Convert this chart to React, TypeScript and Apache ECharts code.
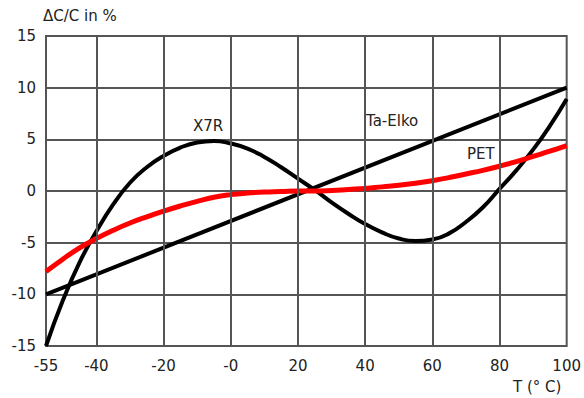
import React, { useEffect, useRef } from "react";
import * as echarts from "echarts";

const xTicks = [-55, -40, -20, 0, 20, 40, 60, 80, 100];
const xGridLines = [-40, -20, 0, 20, 40, 60, 80];
const yTicks = [-15, -10, -5, 0, 5, 10, 15];

const taElkoT = [-55, 100];
const taElkoV = [-10, 10];

const x7rT = [-55, -50, -45, -40, -35, -30, -25, -20, -15, -10, -5, 0, 5, 10, 15, 20, 25, 30, 35, 40, 45, 50, 55, 60, 65, 70, 75, 80, 85, 90, 95, 100];
const x7rV = [-15, -10.6, -6.9, -3.9, -1.3, 0.8, 2.3, 3.4, 4.2, 4.7, 4.85, 4.6, 4.1, 3.3, 2.3, 1.2, 0.1, -1.1, -2.2, -3.2, -4.0, -4.6, -4.85, -4.7, -4.1, -3.0, -1.6, 0.2, 2.0, 4.0, 6.3, 8.9];

const petT = [-55, -50, -45, -40, -35, -30, -25, -20, -15, -10, -5, 0, 5, 10, 15, 20, 25, 30, 35, 40, 45, 50, 55, 60, 65, 70, 75, 80, 85, 90, 95, 100];
const petV = [-7.8, -6.6, -5.5, -4.6, -3.8, -3.1, -2.5, -1.95, -1.45, -1.0, -0.6, -0.35, -0.2, -0.1, -0.05, 0, 0, 0.05, 0.15, 0.25, 0.4, 0.55, 0.75, 1.0, 1.3, 1.65, 2.0, 2.4, 2.85, 3.35, 3.85, 4.4];

const zip = (a: number[], b: number[]) => a.map((v, i) => [v, b[i]]);

export default function App() {
  const ref = useRef<HTMLDivElement>(null);
  useEffect(() => {
    const chart = echarts.init(ref.current!, undefined, { renderer: "svg" });
    const font = "DejaVu Sans";
    const textColor = "#222";
    chart.setOption({
      animation: false,
      backgroundColor: "#fff",
      grid: {
        left: 46,
        right: 12,
        top: 36,
        bottom: 52,
        show: true,
        borderColor: "#555",
        borderWidth: 2,
      },
      xAxis: {
        type: "value",
        min: -55,
        max: 100,
        axisLine: { show: false },
        axisTick: { show: false },
        splitLine: { show: false },
        axisLabel: {
          customValues: xTicks,
          formatter: (v: number) => (v === 0 ? "-0" : String(v)),
          color: textColor,
          fontFamily: font,
          fontSize: 15,
          margin: 12,
        },
      },
      yAxis: {
        type: "value",
        min: -15,
        max: 15,
        interval: 5,
        axisLine: { show: false },
        axisTick: { show: false },
        splitLine: { show: true, lineStyle: { color: "#555", width: 2 } },
        axisLabel: {
          color: textColor,
          fontFamily: font,
          fontSize: 15,
          margin: 10,
          formatter: (v: number) => (yTicks.includes(v) ? String(v) : ""),
        },
      },
      series: [
        {
          type: "line",
          name: "grid",
          data: [],
          silent: true,
          markLine: {
            silent: true,
            symbol: "none",
            label: { show: false },
            lineStyle: { color: "#555", width: 2, type: "solid" },
            data: xGridLines.map((x) => ({ xAxis: x })),
          },
        },
        {
          type: "line",
          name: "Ta-Elko",
          data: zip(taElkoT, taElkoV),
          showSymbol: false,
          lineStyle: { color: "#000", width: 4 },
        },
        {
          type: "line",
          name: "X7R",
          data: zip(x7rT, x7rV),
          smooth: true,
          showSymbol: false,
          lineStyle: { color: "#000", width: 4 },
        },
        {
          type: "line",
          name: "PET",
          data: zip(petT, petV),
          smooth: true,
          showSymbol: false,
          lineStyle: { color: "#ff0000", width: 5 },
        },
      ],
      graphic: [
        { type: "text", left: 43, top: 8, style: { text: "ΔC/C in %", fontFamily: font, fontSize: 15, fill: textColor } },
        { type: "text", left: 513, top: 379, style: { text: "T (° C)", fontFamily: font, fontSize: 15, fill: textColor } },
        { type: "text", left: 193, top: 118, style: { text: "X7R", fontFamily: font, fontSize: 15, fill: textColor } },
        { type: "text", left: 366, top: 113, style: { text: "Ta-Elko", fontFamily: font, fontSize: 15, fill: textColor } },
        { type: "text", left: 467, top: 146, style: { text: "PET", fontFamily: font, fontSize: 15, fill: textColor } },
      ],
    });
    return () => chart.dispose();
  }, []);
  return <div ref={ref} style={{ position: "absolute", left: 0, top: 0, width: 584, height: 398 }} />;
}
